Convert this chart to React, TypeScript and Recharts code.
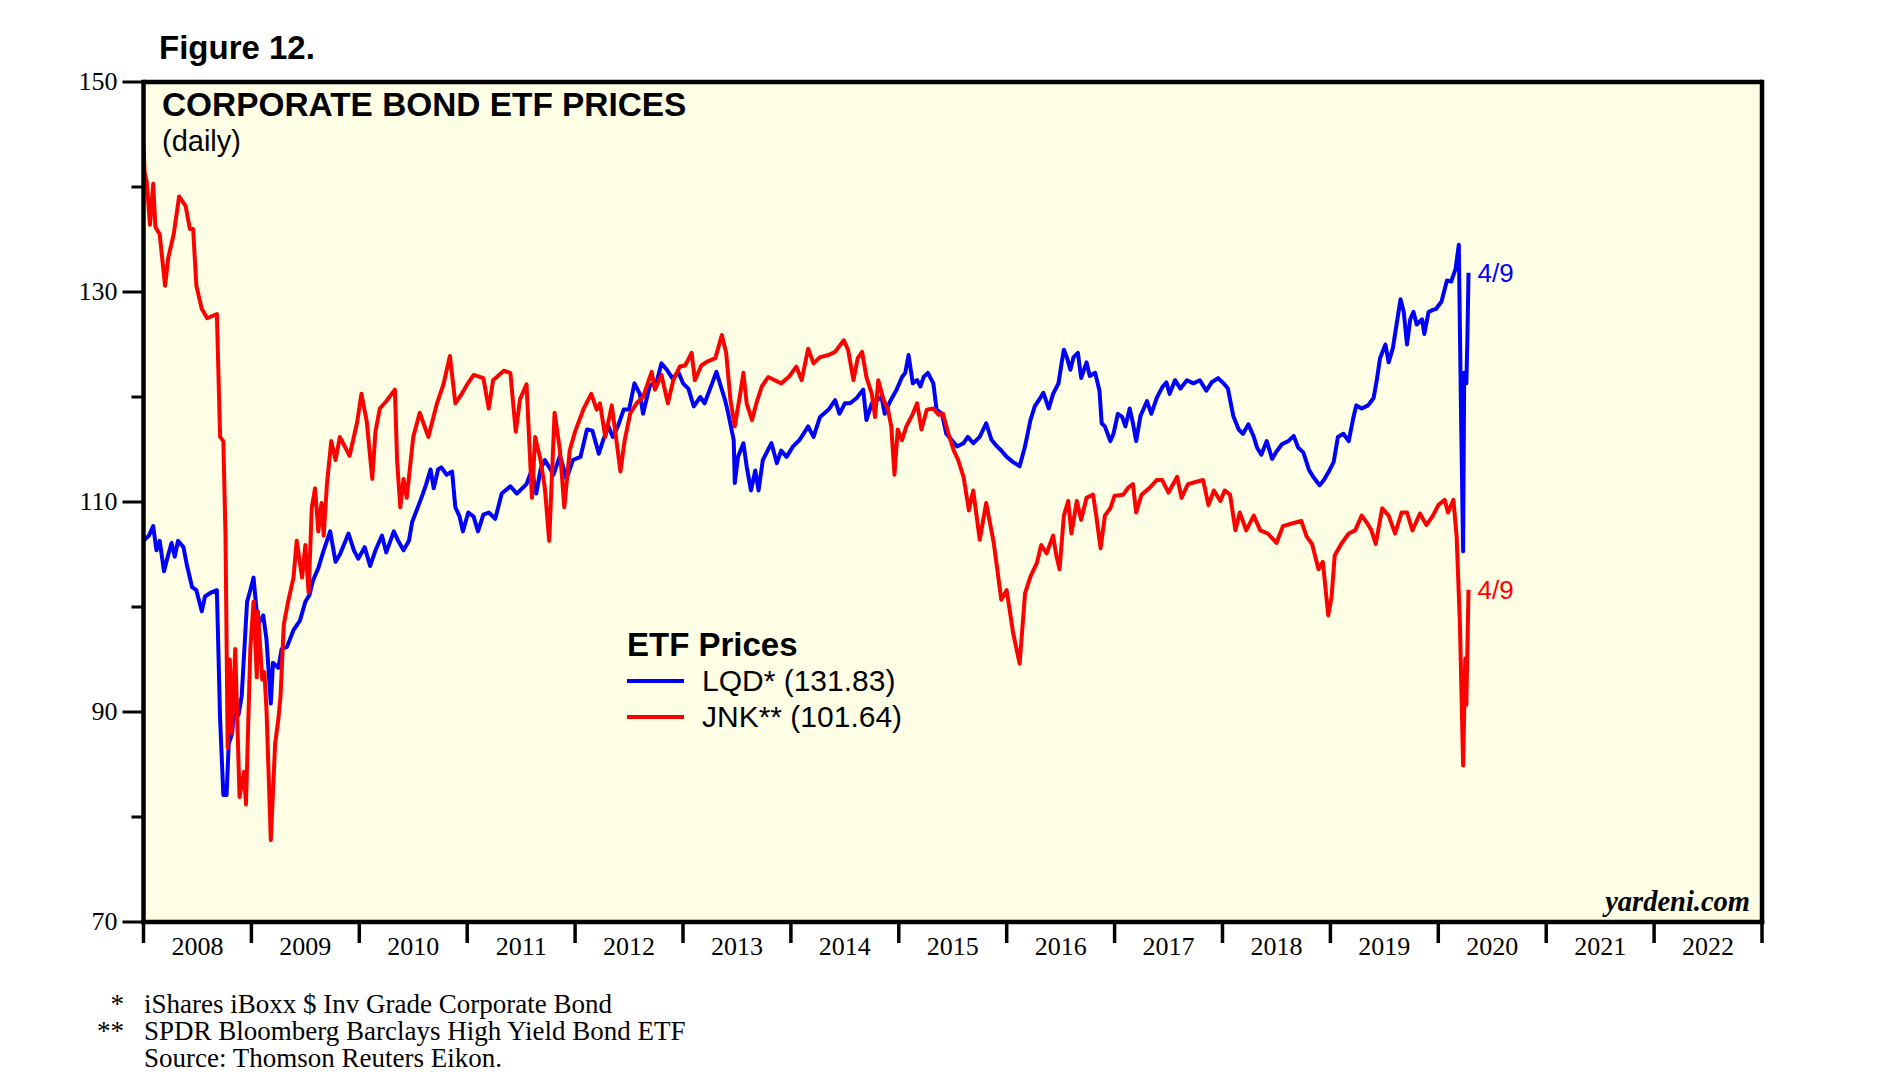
import React from 'react';
import {
  LineChart,
  Line,
  XAxis,
  YAxis,
  CartesianGrid,
  ReferenceDot,
  ReferenceLine,
  Legend,
} from 'recharts';

// LQD: iShares iBoxx $ Inv Grade Corporate Bond (decimal year, price)
const lqdDates = [
  2008.0, 2008.05, 2008.09, 2008.12, 2008.15, 2008.19, 2008.23, 2008.26, 2008.29, 2008.32,
  2008.37, 2008.4, 2008.45, 2008.49, 2008.54, 2008.57, 2008.63, 2008.68, 2008.71, 2008.74,
  2008.77, 2008.79, 2008.82, 2008.85, 2008.88, 2008.91, 2008.96, 2008.99, 2009.02, 2009.06,
  2009.11, 2009.14, 2009.18, 2009.2, 2009.25, 2009.28, 2009.33, 2009.39, 2009.45, 2009.5,
  2009.54, 2009.57, 2009.62, 2009.67, 2009.73, 2009.78, 2009.82, 2009.9, 2009.95, 2009.99,
  2010.05, 2010.1, 2010.15, 2010.21, 2010.25, 2010.32, 2010.36, 2010.41, 2010.46, 2010.49,
  2010.55, 2010.59, 2010.62, 2010.66, 2010.69, 2010.73, 2010.76, 2010.81, 2010.86, 2010.89,
  2010.93, 2010.96, 2011.01, 2011.06, 2011.1, 2011.15, 2011.2, 2011.26, 2011.32, 2011.4,
  2011.46, 2011.51, 2011.55, 2011.6, 2011.64, 2011.68, 2011.72, 2011.8, 2011.86, 2011.92,
  2011.98, 2012.05, 2012.11, 2012.16, 2012.22, 2012.26, 2012.31, 2012.35, 2012.4, 2012.45,
  2012.5, 2012.55, 2012.6, 2012.63, 2012.69, 2012.76, 2012.8, 2012.85, 2012.9, 2012.96,
  2013.0, 2013.05, 2013.1, 2013.16, 2013.2, 2013.27, 2013.31, 2013.36, 2013.39, 2013.42,
  2013.47, 2013.48, 2013.51, 2013.56, 2013.59, 2013.63, 2013.67, 2013.7, 2013.74, 2013.82,
  2013.87, 2013.91, 2013.96, 2014.02, 2014.08, 2014.16, 2014.21, 2014.27, 2014.35, 2014.41,
  2014.45, 2014.5, 2014.55, 2014.61, 2014.67, 2014.7, 2014.75, 2014.8, 2014.84, 2014.87,
  2014.92, 2014.98, 2015.03, 2015.06, 2015.09, 2015.13, 2015.17, 2015.2, 2015.23, 2015.27,
  2015.32, 2015.35, 2015.4, 2015.44, 2015.49, 2015.54, 2015.6, 2015.64, 2015.69, 2015.75,
  2015.81, 2015.86, 2015.91, 2015.95, 2016.0, 2016.06, 2016.12, 2016.17, 2016.22, 2016.26,
  2016.31, 2016.34, 2016.39, 2016.43, 2016.48, 2016.51, 2016.53, 2016.56, 2016.59, 2016.62,
  2016.66, 2016.69, 2016.74, 2016.77, 2016.82, 2016.86, 2016.88, 2016.91, 2016.96, 2016.99,
  2017.03, 2017.07, 2017.1, 2017.14, 2017.17, 2017.2, 2017.24, 2017.3, 2017.34, 2017.39,
  2017.44, 2017.48, 2017.51, 2017.56, 2017.61, 2017.67, 2017.73, 2017.79, 2017.85, 2017.9,
  2017.96, 2018.01, 2018.05, 2018.1, 2018.15, 2018.19, 2018.24, 2018.29, 2018.32, 2018.36,
  2018.41, 2018.46, 2018.5, 2018.55, 2018.61, 2018.66, 2018.7, 2018.75, 2018.8, 2018.84,
  2018.9, 2018.94, 2018.98, 2019.03, 2019.07, 2019.12, 2019.17, 2019.21, 2019.24, 2019.29,
  2019.35, 2019.4, 2019.43, 2019.46, 2019.51, 2019.54, 2019.58, 2019.61, 2019.65, 2019.68,
  2019.71, 2019.74, 2019.77, 2019.8, 2019.85, 2019.87, 2019.91, 2019.95, 2019.98, 2020.03,
  2020.08, 2020.12, 2020.16, 2020.19, 2020.21, 2020.23, 2020.24, 2020.26, 2020.27, 2020.28,
];
const lqdValues = [
  106.3, 106.8, 107.7, 105.4, 106.3, 103.4, 105.0, 106.1, 104.8, 106.3,
  105.7, 104.1, 101.9, 101.6, 99.6, 101.0, 101.4, 101.6, 89.3, 82.1,
  82.1, 87.0, 87.9, 90.8, 89.7, 91.5, 100.5, 101.6, 102.8, 98.3,
  99.2, 96.9, 90.8, 94.7, 94.2, 96.0, 96.2, 97.8, 98.7, 100.5,
  101.2, 102.5, 103.7, 105.4, 107.2, 104.3, 105.0, 107.0, 105.4, 104.6,
  105.7, 103.9, 105.4, 106.8, 105.2, 107.2, 106.3, 105.4, 106.3, 108.1,
  109.7, 110.8, 111.7, 113.1, 111.3, 113.1, 113.3, 112.6, 112.9, 109.5,
  108.6, 107.2, 109.0, 108.6, 107.2, 108.8, 109.0, 108.4, 110.8, 111.5,
  110.8, 111.3, 111.7, 113.1, 110.8, 113.1, 114.0, 112.6, 114.4, 112.2,
  114.0, 114.3, 116.9, 116.8, 114.6, 115.9, 117.2, 116.2, 117.3, 118.8,
  118.8, 121.3, 120.3, 118.4, 121.0, 121.6, 123.2, 122.6, 121.8, 122.3,
  121.3, 120.8, 119.1, 120.0, 119.4, 121.3, 122.4, 120.7, 119.7, 118.4,
  115.9, 111.8, 114.3, 115.6, 113.4, 111.1, 113.0, 111.1, 114.0, 115.6,
  113.7, 114.9, 114.3, 115.3, 115.9, 117.2, 116.2, 118.1, 118.8, 119.7,
  118.4, 119.4, 119.4, 119.9, 120.7, 117.8, 119.4, 119.7, 120.0, 118.4,
  119.6, 120.7, 121.9, 122.3, 124.0, 121.3, 121.6, 121.0, 121.9, 122.3,
  121.3, 118.8, 118.4, 116.5, 115.9, 115.3, 115.6, 116.2, 115.6, 116.2,
  117.5, 115.9, 115.3, 114.9, 114.3, 113.8, 113.4, 115.3, 117.8, 119.1,
  119.9, 120.4, 118.9, 120.3, 121.3, 123.3, 124.5, 123.7, 122.6, 123.8,
  124.2, 121.8, 123.3, 122.0, 122.3, 120.6, 117.5, 117.2, 115.8, 116.5,
  118.4, 118.1, 117.2, 118.9, 117.5, 115.8, 118.2, 119.6, 118.4, 119.9,
  120.9, 121.4, 120.3, 121.6, 120.8, 121.6, 121.3, 121.6, 120.6, 121.4,
  121.8, 121.3, 120.8, 118.2, 116.9, 116.5, 117.4, 116.2, 115.2, 114.5,
  115.8, 114.1, 114.8, 115.5, 115.8, 116.3, 115.2, 114.7, 113.1, 112.4,
  111.6, 112.1, 112.8, 113.8, 116.2, 116.5, 115.8, 117.9, 119.2, 118.9,
  119.2, 119.9, 121.6, 123.7, 125.0, 123.3, 124.7, 126.7, 129.3, 128.1,
  125.0, 127.4, 128.1, 126.9, 127.4, 126.0, 128.1, 128.3, 128.4, 129.1,
  131.1, 131.0, 132.2, 134.5, 118.9, 105.3, 122.3, 121.3, 125.7, 131.83,
];

// JNK: SPDR Bloomberg Barclays High Yield Bond ETF (decimal year, price)
const jnkDates = [
  2008.0, 2008.01, 2008.03, 2008.06, 2008.09, 2008.11, 2008.15, 2008.2, 2008.23, 2008.28,
  2008.33, 2008.39, 2008.43, 2008.46, 2008.49, 2008.54, 2008.59, 2008.68, 2008.71, 2008.74,
  2008.76, 2008.78, 2008.8, 2008.82, 2008.85, 2008.89, 2008.93, 2008.95, 2008.99, 2009.02,
  2009.05, 2009.06, 2009.1, 2009.12, 2009.14, 2009.18, 2009.22, 2009.25, 2009.27, 2009.3,
  2009.34, 2009.39, 2009.42, 2009.47, 2009.5, 2009.53, 2009.56, 2009.59, 2009.62, 2009.65,
  2009.67, 2009.7, 2009.74, 2009.78, 2009.82, 2009.91, 2009.98, 2010.02, 2010.07, 2010.12,
  2010.15, 2010.19, 2010.25, 2010.33, 2010.35, 2010.38, 2010.41, 2010.44, 2010.5, 2010.56,
  2010.64, 2010.72, 2010.78, 2010.84, 2010.89, 2010.95, 2011.0, 2011.06, 2011.15, 2011.2,
  2011.24, 2011.34, 2011.4, 2011.45, 2011.49, 2011.55, 2011.6, 2011.63, 2011.68, 2011.72,
  2011.76, 2011.81, 2011.86, 2011.9, 2011.95, 2012.0, 2012.08, 2012.15, 2012.2, 2012.23,
  2012.28, 2012.34, 2012.39, 2012.42, 2012.46, 2012.51, 2012.57, 2012.63, 2012.71, 2012.74,
  2012.8, 2012.86, 2012.91, 2012.97, 2013.02, 2013.08, 2013.11, 2013.17, 2013.23, 2013.3,
  2013.36, 2013.4, 2013.44, 2013.48, 2013.53, 2013.56, 2013.59, 2013.64, 2013.68, 2013.73,
  2013.79, 2013.85, 2013.91, 2013.98, 2014.05, 2014.1, 2014.16, 2014.21, 2014.27, 2014.35,
  2014.41, 2014.49, 2014.53, 2014.58, 2014.62, 2014.66, 2014.7, 2014.75, 2014.78, 2014.81,
  2014.86, 2014.9, 2014.93, 2014.96, 2014.99, 2015.03, 2015.07, 2015.13, 2015.17, 2015.21,
  2015.26, 2015.32, 2015.37, 2015.41, 2015.46, 2015.51, 2015.55, 2015.6, 2015.65, 2015.69,
  2015.75, 2015.81, 2015.88, 2015.95, 2016.0, 2016.06, 2016.12, 2016.17, 2016.22, 2016.28,
  2016.32, 2016.37, 2016.43, 2016.46, 2016.49, 2016.53, 2016.57, 2016.6, 2016.65, 2016.69,
  2016.74, 2016.8, 2016.83, 2016.87, 2016.91, 2016.96, 2017.0, 2017.08, 2017.13, 2017.17,
  2017.2, 2017.25, 2017.33, 2017.39, 2017.44, 2017.5, 2017.58, 2017.62, 2017.68, 2017.75,
  2017.82, 2017.87, 2017.92, 2017.98, 2018.02, 2018.07, 2018.12, 2018.16, 2018.22, 2018.29,
  2018.35, 2018.42, 2018.5, 2018.56, 2018.66, 2018.73, 2018.78, 2018.83, 2018.89, 2018.93,
  2018.98, 2019.01, 2019.04, 2019.1, 2019.17, 2019.23, 2019.29, 2019.34, 2019.38, 2019.42,
  2019.48, 2019.54, 2019.6, 2019.66, 2019.71, 2019.76, 2019.83, 2019.89, 2019.95, 2020.0,
  2020.06, 2020.09, 2020.14, 2020.17, 2020.2, 2020.23, 2020.25, 2020.26, 2020.28,
];
const jnkValues = [
  144.1, 141.4, 140.5, 136.4, 140.3, 136.2, 135.5, 130.6, 133.3, 135.5,
  139.1, 138.2, 136.0, 136.0, 130.6, 128.4, 127.5, 127.9, 116.2, 115.8,
  106.8, 86.6, 95.0, 88.0, 96.0, 81.9, 84.3, 81.2, 96.0, 100.5,
  93.3, 99.6, 93.1, 93.8, 90.2, 77.8, 87.0, 89.3, 91.5, 98.3,
  100.5, 102.8, 106.3, 102.8, 105.9, 101.4, 109.5, 111.3, 107.2, 109.9,
  106.8, 111.7, 115.8, 114.0, 116.2, 114.4, 117.6, 120.3, 117.6, 112.2,
  116.7, 118.9, 119.6, 120.7, 114.0, 109.5, 112.2, 110.4, 116.2, 118.5,
  116.2, 119.4, 121.2, 123.9, 119.4, 120.3, 121.2, 122.1, 121.8, 118.9,
  121.6, 122.5, 122.3, 116.7, 119.8, 121.2, 110.4, 116.2, 114.0, 111.3,
  106.3, 118.5, 114.9, 109.5, 114.9, 116.7, 118.9, 120.3, 118.8, 119.4,
  116.2, 119.2, 115.3, 112.9, 115.9, 118.4, 119.4, 120.0, 122.4, 120.7,
  122.1, 119.4, 121.6, 122.9, 123.0, 124.2, 121.6, 123.0, 123.4, 123.7,
  125.9, 124.2, 119.7, 117.2, 120.3, 122.3, 119.4, 117.8, 119.4, 121.0,
  121.9, 121.6, 121.3, 121.9, 122.9, 121.6, 124.6, 123.2, 123.8, 124.0,
  124.3, 125.4, 124.5, 121.6, 123.7, 124.3, 121.9, 120.3, 118.1, 121.6,
  119.7, 118.8, 117.2, 112.6, 116.9, 115.9, 117.2, 118.4, 119.4, 116.9,
  118.8, 118.9, 118.3, 118.4, 116.5, 114.9, 114.0, 112.4, 109.2, 111.1,
  106.4, 109.9, 106.1, 100.7, 101.6, 97.5, 94.6, 101.3, 102.9, 104.2,
  105.9, 105.1, 106.8, 104.9, 103.6, 108.7, 110.1, 107.0, 110.1, 108.3,
  110.4, 110.7, 108.7, 105.6, 108.7, 109.4, 110.6, 110.7, 111.4, 111.7,
  109.0, 110.7, 111.4, 112.1, 112.1, 110.9, 112.4, 110.4, 111.7, 111.9,
  112.1, 109.7, 111.1, 110.1, 111.1, 110.7, 107.3, 109.0, 107.3, 108.7,
  107.3, 107.0, 106.1, 107.7, 108.0, 108.2, 106.7, 106.0, 103.6, 104.3,
  99.2, 100.9, 104.9, 106.0, 107.0, 107.3, 108.7, 108.0, 107.3, 106.0,
  109.4, 108.7, 107.0, 109.0, 109.0, 107.3, 108.9, 107.8, 108.7, 109.7,
  110.2, 109.0, 110.2, 106.7, 98.5, 84.9, 95.1, 90.7, 101.64,
];

const yTicks = [70, 80, 90, 100, 110, 120, 130, 140, 150];
const yLabels = [70, 90, 110, 130, 150];
const years = [2008, 2009, 2010, 2011, 2012, 2013, 2014, 2015, 2016, 2017, 2018, 2019, 2020, 2021, 2022];

const lqdData = lqdDates.map((t, i) => ({ t, v: lqdValues[i] }));
const jnkData = jnkDates.map((t, i) => ({ t, v: jnkValues[i] }));

// year boundaries carry tick lines, mid-years carry the labels
const xTicks = [...years, 2023, ...years.map((y) => y + 0.5)].sort((a, b) => a - b);

const BLUE = '#0000FF';
const RED = '#FF0000';
const SERIF = '"Liberation Serif", "Times New Roman", serif';
const SANS = '"Liberation Sans", Arial, sans-serif';

const YearTick = ({ x, y, payload }: any) => {
  const v = payload.value;
  if (Number.isInteger(v)) {
    return <line x1={x} x2={x} y1={y} y2={y + 21} stroke="#000" strokeWidth={3.5} />;
  }
  return (
    <text x={x} y={y + 33} textAnchor="middle" fontFamily={SERIF} fontSize={26} fill="#000">
      {Math.floor(v)}
    </text>
  );
};

const LeftTick = ({ x, y, payload }: any) => {
  const major = yLabels.includes(payload.value);
  const len = major ? 21 : 12;
  return (
    <g>
      <line x1={x - len} x2={x} y1={y} y2={y} stroke="#000" strokeWidth={3} />
      {major && (
        <text x={x - len - 5} y={y} dy="0.3em" textAnchor="end" fontFamily={SERIF} fontSize={26} fill="#000">
          {payload.value}
        </text>
      )}
    </g>
  );
};

const RightTick = ({ x, y, payload }: any) => {
  const major = yLabels.includes(payload.value);
  const len = major ? 21 : 12;
  return (
    <g>
      <line x1={x} x2={x + len} y1={y} y2={y} stroke="#000" strokeWidth={3} />
      {major && (
        <text x={x + len + 6} y={y} dy="0.3em" textAnchor="start" fontFamily={SERIF} fontSize={26} fill="#000">
          {payload.value}
        </text>
      )}
    </g>
  );
};

const LegendBox = () => (
  <div style={{ fontFamily: SANS, color: '#000' }}>
    <div style={{ fontSize: 33, fontWeight: 'bold', lineHeight: '36px' }}>ETF Prices</div>
    {[
      { c: BLUE, t: 'LQD* (131.83)' },
      { c: RED, t: 'JNK** (101.64)' },
    ].map((e) => (
      <div key={e.t} style={{ display: 'flex', alignItems: 'center', height: 36 }}>
        <div style={{ width: 57, height: 4, background: e.c, marginRight: 18 }} />
        <span style={{ fontSize: 30 }}>{e.t}</span>
      </div>
    ))}
  </div>
);

const endLabel = (color: string) => (props: any) => {
  const { viewBox } = props;
  const cx = viewBox.x + (viewBox.width || 0) / 2;
  const cy = viewBox.y + (viewBox.height || 0) / 2;
  return (
    <text x={cx + 9} y={cy} dy="0.35em" fontFamily={SANS} fontSize={26} fill={color}>
      4/9
    </text>
  );
};

const axisLine = { stroke: '#000', strokeWidth: 4.5, strokeLinecap: 'square' as const };

export default function App() {
  return (
    <div style={{ position: 'absolute', left: 0, top: 0, width: 1888, height: 1088, background: '#fff' }}>
      <LineChart width={1888} height={1088} margin={{ top: 82, right: 66, bottom: 116, left: 83.5 }}>
        <CartesianGrid horizontal={false} vertical={false} fill="#FFFFE6" xAxisId="main" yAxisId="left" />
        <XAxis
          xAxisId="main"
          dataKey="t"
          type="number"
          domain={[2008, 2023]}
          ticks={xTicks}
          interval={0}
          tickSize={0}
          tickMargin={0}
          tick={<YearTick />}
          tickLine={false}
          axisLine={axisLine}
          height={50}
          allowDataOverflow
        />
        <YAxis
          yAxisId="left"
          domain={[70, 150]}
          ticks={yTicks}
          interval={0}
          tickSize={0}
          tickMargin={0}
          tick={<LeftTick />}
          tickLine={false}
          axisLine={axisLine}
          width={60}
          allowDataOverflow
        />
        <YAxis
          yAxisId="right"
          orientation="right"
          domain={[70, 150]}
          ticks={yTicks}
          interval={0}
          tickSize={0}
          tickMargin={0}
          tick={<RightTick />}
          tickLine={false}
          axisLine={axisLine}
          width={60}
        />
        <Line
          data={lqdData}
          xAxisId="main"
          yAxisId="left"
          dataKey="v"
          stroke={BLUE}
          strokeWidth={4}
          dot={false}
          isAnimationActive={false}
          strokeLinejoin="round"
        />
        <Line
          data={jnkData}
          xAxisId="main"
          yAxisId="left"
          dataKey="v"
          stroke={RED}
          strokeWidth={4}
          dot={false}
          isAnimationActive={false}
          strokeLinejoin="round"
        />
        {/* top frame edge */}
        <ReferenceLine xAxisId="main" yAxisId="left" y={150} stroke="#000" strokeWidth={4.5} />
        <ReferenceDot
          xAxisId="main"
          yAxisId="left"
          x={lqdDates[lqdDates.length - 1]}
          y={lqdValues[lqdValues.length - 1]}
          r={0}
          fill="none"
          stroke="none"
          label={endLabel(BLUE)}
        />
        <ReferenceDot
          xAxisId="main"
          yAxisId="left"
          x={jnkDates[jnkDates.length - 1]}
          y={jnkValues[jnkValues.length - 1]}
          r={0}
          fill="none"
          stroke="none"
          label={endLabel(RED)}
        />
        <Legend
          layout="vertical"
          align="center"
          verticalAlign="middle"
          content={<LegendBox />}
          wrapperStyle={{ left: 627, top: 627, width: 'auto' }}
        />
      </LineChart>

      <svg
        width={1888}
        height={1088}
        style={{ position: 'absolute', left: 0, top: 0, pointerEvents: 'none' }}
      >
        <text x={159} y={59} fontFamily={SANS} fontWeight="bold" fontSize={33} fill="#000">
          Figure 12.
        </text>
        <text x={162} y={116} fontFamily={SANS} fontWeight="bold" fontSize={33.4} fill="#000">
          CORPORATE BOND ETF PRICES
        </text>
        <text x={162} y={151} fontFamily={SANS} fontSize={29} fill="#000">
          (daily)
        </text>
        <text x={1750} y={911} textAnchor="end" fontFamily={SERIF} fontWeight="bold" fontStyle="italic" fontSize={28.5} fill="#000">
          yardeni.com
        </text>
        <text x={124} y={1013} textAnchor="end" fontFamily={SERIF} fontSize={27} fill="#000">*</text>
        <text x={144} y={1013} fontFamily={SERIF} fontSize={27} fill="#000">
          iShares iBoxx $ Inv Grade Corporate Bond
        </text>
        <text x={124} y={1040} textAnchor="end" fontFamily={SERIF} fontSize={27} fill="#000">**</text>
        <text x={144} y={1040} fontFamily={SERIF} fontSize={27} fill="#000">
          SPDR Bloomberg Barclays High Yield Bond ETF
        </text>
        <text x={144} y={1067} fontFamily={SERIF} fontSize={27} fill="#000">
          Source: Thomson Reuters Eikon.
        </text>
      </svg>
    </div>
  );
}
